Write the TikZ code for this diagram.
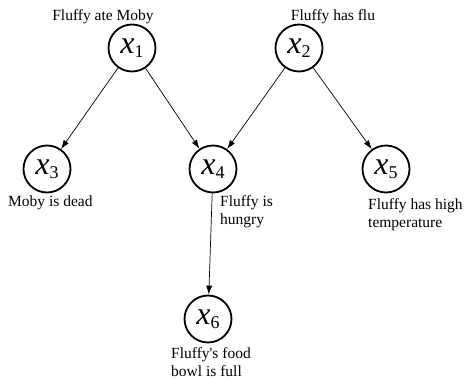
\documentclass[tikz,border=0pt]{standalone}
\usepackage{fontspec}
\setmainfont{Liberation Serif}
\usetikzlibrary{arrows.meta}
\newcommand{\varx}[1]{{\fontsize{32}{32}\selectfont\itshape x\/}\raisebox{-4pt}{\fontsize{18}{18}\selectfont #1}}
\begin{document}
\begin{tikzpicture}[x=1pt,y=-1pt,
  var/.style={circle,draw,line width=1.8pt,minimum size=47pt,inner sep=0pt},
  lbl/.style={font=\fontsize{15.5}{18}\selectfont,inner sep=0pt,align=left},
  edge/.style={line width=0.7pt,-{Latex[length=9pt,width=6pt]}}]
\useasboundingbox (0,0) rectangle (465,379);
\node[var] (x1) at (132,48) {\varx{1}};
\node[var] (x2) at (299,48) {\varx{2}};
\node[var] (x3) at (47,169) {\varx{3}};
\node[var] (x4) at (213,169) {\varx{4}};
\node[var] (x5) at (386,169) {\varx{5}};
\node[var] (x6) at (208,319) {\varx{6}};
\node[lbl,anchor=base] (l1) at (103,21) {Fluffy ate Moby};
\node[lbl,anchor=base] (l2) at (333,21) {Fluffy has flu};
\node[lbl,anchor=base west] (l3) at (8,207) {Moby is dead};
\node[lbl,anchor=north west] (l4) at (220,195) {Fluffy is\\hungry};
\node[lbl,anchor=north west] (l5) at (368,198.5) {Fluffy has high\\temperature};
\node[lbl,anchor=north west] (l6) at (171,347.5) {Fluffy\textquotesingle s food\\bowl is full};
\draw[edge] (x1) -- (x3);
\draw[edge] (x1) -- (x4);
\draw[edge] (x2) -- (x4);
\draw[edge] (x2) -- (x5);
\draw[edge] (x4) -- (x6);
\end{tikzpicture}
\end{document}
